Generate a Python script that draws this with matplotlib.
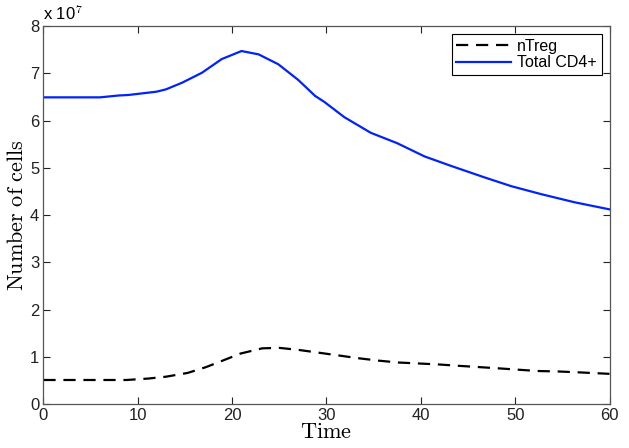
import matplotlib
matplotlib.use("Agg")
import matplotlib.pyplot as plt
from matplotlib.ticker import FuncFormatter

plt.rcParams['font.family'] = ['Liberation Sans', 'DejaVu Sans']
plt.rcParams['mathtext.fontset'] = 'cm'

# values in units of 1e7 cells
t_cd4 = [0, 6, 8, 9, 12, 13, 14.7, 16.8, 18.9, 21, 22.8, 24.9, 27, 28.8,
         29.8, 31.9, 34.7, 37.5, 40.4, 43.2, 46.7, 49.6, 52.8, 56.3, 60]
cd4 = [6.49, 6.49, 6.53, 6.54, 6.61, 6.66, 6.80, 7.01, 7.30, 7.47, 7.40,
       7.19, 6.86, 6.52, 6.39, 6.07, 5.74, 5.52, 5.24, 5.04, 4.80, 4.61,
       4.44, 4.27, 4.12]

t_treg = [0, 6.3, 8.8, 11.1, 13, 15.3, 17.2, 19, 20.9, 23.2, 25, 27.1,
          29.1, 30.9, 33.4, 35.5, 37.6, 39.7, 41.8, 44, 46, 48.2, 50.3,
          52.4, 54.6, 56.7, 59, 60]
treg = [0.51, 0.51, 0.51, 0.54, 0.58, 0.66, 0.78, 0.92, 1.07, 1.18, 1.19,
        1.145, 1.09, 1.04, 0.97, 0.92, 0.88, 0.86, 0.84, 0.81, 0.785, 0.757,
        0.728, 0.70, 0.69, 0.672, 0.65, 0.64]

scale = 1e7

fig = plt.figure(figsize=(6.29, 4.48), dpi=100)
ax = fig.add_axes([0.069, 0.098, 0.900, 0.844])

ax.plot(t_treg, [v * scale for v in treg], color='black', lw=1.6,
        dashes=(5.5, 3.5), label='nTreg')
ax.plot(t_cd4, [v * scale for v in cd4], color='#0022ff', lw=1.6,
        label='Total CD4+')

ax.set_xlim(0, 60)
ax.set_ylim(0, 8e7)
ax.set_xticks(range(0, 61, 10))
ax.set_yticks([i * scale for i in range(9)])
ax.yaxis.set_major_formatter(FuncFormatter(lambda v, p: '%d' % round(v / scale)))

ax.tick_params(direction='in', length=5, width=0.8, top=True, right=True,
               labelsize=12, colors='#222222', pad=3)
for s in ax.spines.values():
    s.set_color('#555555')
    s.set_linewidth(0.9)

ax.text(0.0, 1.008, r'x 10$^{\mathsf{7}}$', transform=ax.transAxes,
        fontsize=12, ha='left', va='bottom')

ax.set_xlabel(r'$\mathrm{Time}$', fontsize=16, labelpad=-1)
ax.set_ylabel(r'$\mathrm{Number\ of\ cells}$', fontsize=16, labelpad=1)

leg = ax.legend(loc='upper right', fontsize=11.5, handlelength=3.4,
                fancybox=False, framealpha=1, edgecolor='black',
                borderpad=0.3, labelspacing=0.1, handletextpad=0.4,
                borderaxespad=0.5)
leg.get_frame().set_linewidth(0.8)

fig.savefig('out.png', dpi=100)
